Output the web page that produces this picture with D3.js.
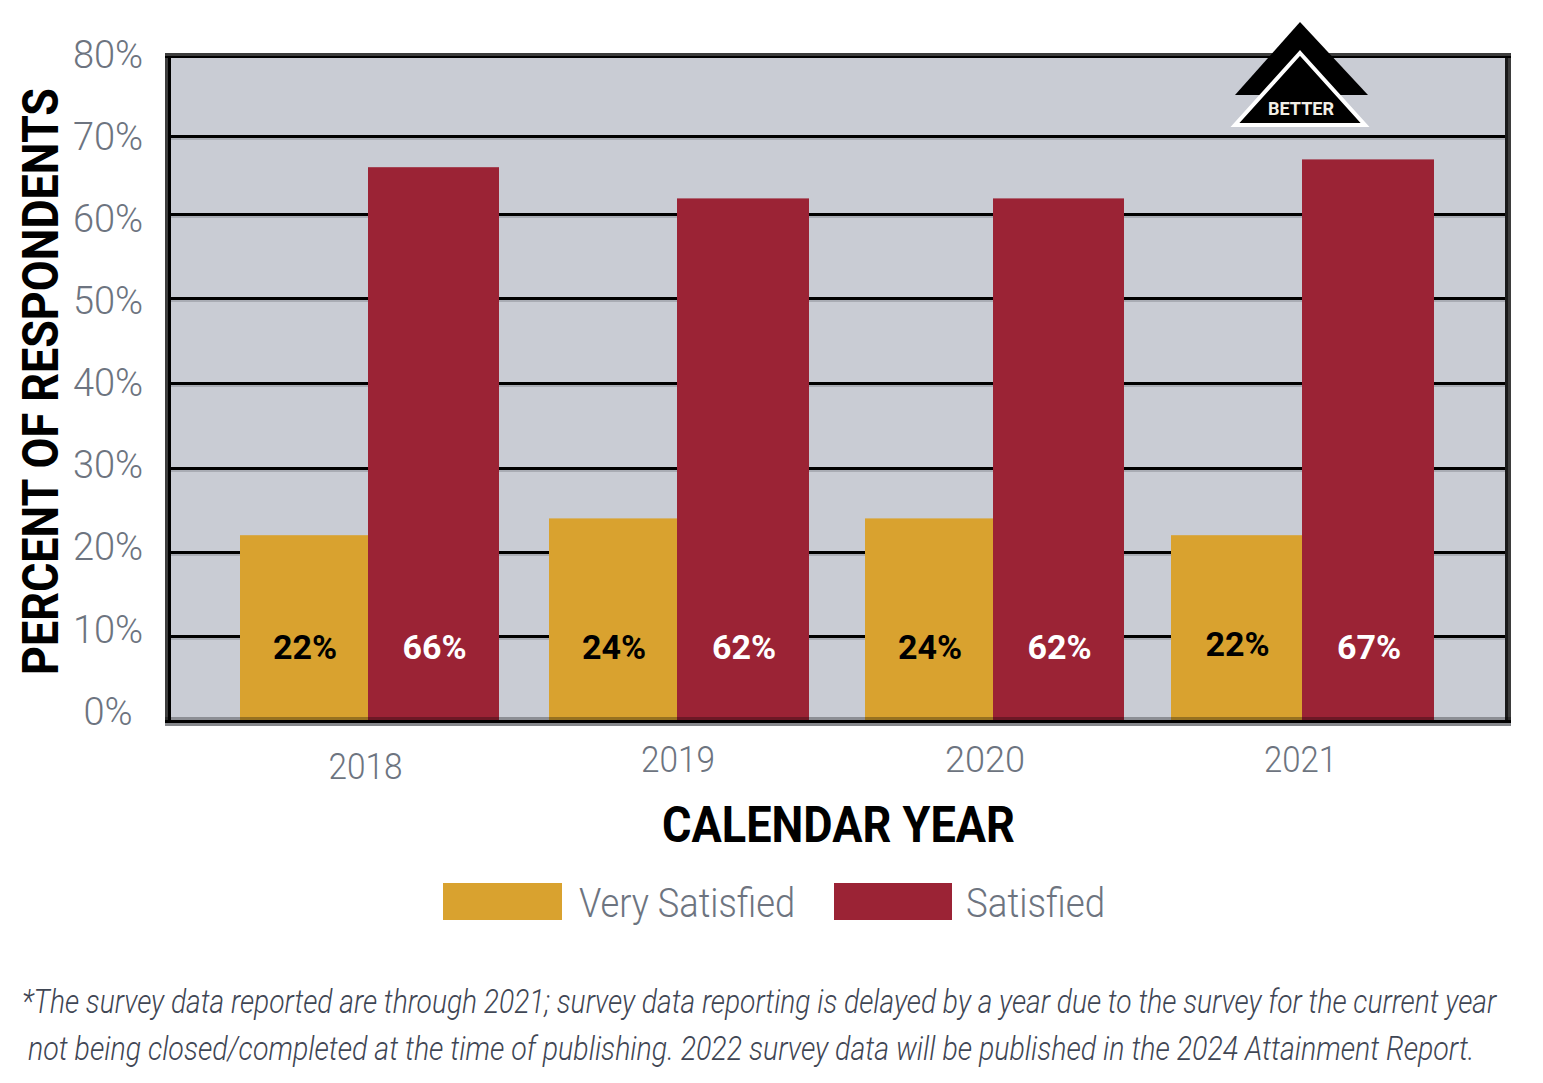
<!DOCTYPE html>
<html>
<head>
<meta charset="utf-8">
<title>Percent of respondents satisfied, by calendar year</title>
<script src="https://cdn.jsdelivr.net/npm/d3@7"></script>
<style>
  html, body { margin: 0; padding: 0; background: #fff; }
  svg { display: block; }
  text { font-family: Roboto, "Liberation Sans", sans-serif; }
</style>
</head>
<body>
<svg id="chart" width="1543" height="1083"></svg>
<script>
// Survey results
const years = ["2018", "2019", "2020", "2021"];
const verySatisfied = [22, 24, 24, 22];
const satisfied = [66, 62, 62, 67];
const seriesNames = ["Very Satisfied", "Satisfied"];
const gridTicks = [0, 10, 20, 30, 40, 50, 60, 70, 80];
const footnoteLines = [
  "*The survey data reported are through 2021; survey data reporting is delayed by a year due to the survey for the current year",
  "not being closed/completed at the time of publishing. 2022 survey data will be published in the 2024 Attainment Report."
];

const GOLD = "#d9a22f", RED = "#9b2335", PANEL = "#c9ccd4", INK = "#000", MUTED = "#6d7480";
const svg = d3.select("#chart");

// Plot frame
const plot = { left: 171, right: 1505, top: 58, bottom: 720 };

// The rules sit at slightly uneven intervals, so the scale is piecewise
const y = d3.scaleLinear().domain(gridTicks).range([720, 636, 552, 468, 383, 298, 214, 136, 55]);
const yLabels = d3.scaleLinear().domain([0, 80]).range([712, 55]);

// Each year's pair of bars: left edge, shared edge, right edge
const xLeft = d3.scaleOrdinal().domain(years).range([240, 549, 865, 1171]);
const xMid = d3.scaleOrdinal().domain(years).range([368, 677, 993, 1302]);
const xRight = d3.scaleOrdinal().domain(years).range([499, 809, 1124, 1434]);

const xYearLabel = d3.scaleOrdinal().domain(years).range([365.5, 678, 985, 1300.5]);
const yearLabelWidth = d3.scaleOrdinal().domain(years).range([74, 74, 80, 73]);
const yearLabelBaseline = d3.scaleOrdinal().domain(years).range([779, 772, 772, 772]);
const goldLabelBaseline = d3.scaleOrdinal().domain(years).range([659, 659, 659, 656]);
const colour = d3.scaleOrdinal().domain(seriesNames).range([GOLD, RED]);

svg.append("rect")
  .attr("x", plot.left).attr("y", plot.top)
  .attr("width", plot.right - plot.left).attr("height", plot.bottom - plot.top)
  .attr("fill", PANEL);

// Horizontal rules: a black line with a soft grey edge under it
const rules = gridTicks.filter(d => d > 0 && d < 80);
svg.append("g").selectAll("rect.edge").data(rules).join("rect")
  .attr("class", "edge")
  .attr("x", plot.left).attr("width", plot.right - plot.left)
  .attr("y", d => y(d) + 1).attr("height", 3).attr("fill", "#a9acb4");
const gridAxis = d3.axisRight(y).tickValues(rules).tickSize(plot.right - 165).tickFormat("");
svg.append("g")
  .attr("transform", "translate(165,0)")
  .call(gridAxis)
  .call(g => g.select(".domain").remove())
  .call(g => g.selectAll("line").attr("stroke", INK).attr("stroke-width", 3));

// Bars
const rows = years.map((year, i) => ({ year, values: [verySatisfied[i], satisfied[i]] }));
const groups = svg.append("g").selectAll("g").data(rows).join("g");
const cells = d => d.values.map((v, j) => ({
  year: d.year, v, j,
  x0: j === 0 ? xLeft(d.year) : xMid(d.year),
  x1: j === 0 ? xMid(d.year) : xRight(d.year)
}));
groups.selectAll("rect").data(cells).join("rect")
  .attr("x", d => d.x0)
  .attr("width", d => d.x1 - d.x0)
  .attr("y", d => y(d.v))
  .attr("height", d => y(0) - y(d.v))
  .attr("fill", d => colour(seriesNames[d.j]));
groups.selectAll("text").data(cells).join("text")
  .attr("x", d => (d.x0 + d.x1) / 2 + 1)
  .attr("y", d => d.j === 0 ? goldLabelBaseline(d.year) : 659)
  .attr("text-anchor", "middle")
  .attr("font-size", 34)
  .attr("font-weight", 700)
  .attr("fill", d => d.j === 0 ? INK : "#fff")
  .text(d => d.v + "%");

// Frame around the panel
const frame = svg.append("g");
[[165, 53, 3, 673, "#3d3d3d"], [168, 55, 3, 669, INK],
 [1505, 55, 3, 669, "#1a1a1a"], [1508, 53, 3, 673, "#3d3d3d"],
 [165, 53, 1346, 3, "#3d3d3d"], [165, 56, 1346, 2, INK],
 [165, 717, 1346, 3, "rgba(0,0,0,0.3)"], [165, 720, 1346, 3, INK], [165, 723, 1346, 3, "#85878b"]]
  .forEach(([fx, fy, fw, fh, fc]) => frame.append("rect")
    .attr("x", fx).attr("y", fy).attr("width", fw).attr("height", fh).attr("fill", fc));

// Value axis labels
svg.append("g")
  .attr("transform", "translate(108,0)")
  .call(d3.axisLeft(yLabels).tickValues(gridTicks).tickSize(0).tickPadding(0).tickFormat(d => d + "%"))
  .call(g => g.select(".domain").remove())
  .call(g => g.selectAll("text")
    .attr("text-anchor", "middle")
    .attr("x", 0)
    .attr("font-size", 38)
    .attr("font-weight", 300)
    .attr("fill", MUTED)
    .style("font-family", "Roboto"));

// Year labels
svg.append("g").selectAll("text").data(years).join("text")
  .attr("x", d => xYearLabel(d))
  .attr("y", d => yearLabelBaseline(d))
  .attr("text-anchor", "middle")
  .attr("font-size", 37)
  .attr("font-weight", 300)
  .attr("fill", MUTED)
  .attr("textLength", d => yearLabelWidth(d)).attr("lengthAdjust", "spacingAndGlyphs")
  .text(d => d);

// Axis titles
svg.append("text")
  .attr("transform", "translate(58,675) rotate(-90)")
  .attr("font-size", 50).attr("font-weight", 700).attr("fill", INK)
  .attr("textLength", 587).attr("lengthAdjust", "spacingAndGlyphs")
  .text("PERCENT OF RESPONDENTS");
svg.append("text")
  .attr("x", 662).attr("y", 842)
  .attr("font-size", 50).attr("font-weight", 700).attr("fill", INK)
  .attr("textLength", 353).attr("lengthAdjust", "spacingAndGlyphs")
  .text("CALENDAR YEAR");

// Legend
const legendItems = [
  { name: seriesNames[0], x: 443, w: 119, tx: 579, tl: 216 },
  { name: seriesNames[1], x: 834, w: 118, tx: 966, tl: 139 }
];
const legend = svg.append("g").selectAll("g").data(legendItems).join("g");
legend.append("rect")
  .attr("x", d => d.x).attr("y", 883).attr("width", d => d.w).attr("height", 37)
  .attr("fill", d => colour(d.name));
legend.append("text")
  .attr("x", d => d.tx).attr("y", 917)
  .attr("font-size", 40).attr("font-weight", 300).attr("fill", MUTED)
  .attr("textLength", d => d.tl).attr("lengthAdjust", "spacingAndGlyphs")
  .text(d => d.name);

// Footnote: each line is squeezed horizontally to its measured width
const footnotePlacement = [
  { x: 22, baseline: 1013, length: 1475 },
  { x: 28, baseline: 1060, length: 1447 }
];
svg.append("g").selectAll("text").data(footnoteLines).join("text")
  .attr("font-size", 33).attr("font-style", "italic").attr("font-weight", 300)
  .attr("fill", "#3f4654")
  .text(d => d)
  .attr("transform", function (d, i) {
    const p = footnotePlacement[i];
    return `translate(${p.x},${p.baseline}) scale(${p.length / this.getComputedTextLength()},1)`;
  });

// "Better" direction marker
const marker = svg.append("g");
marker.append("path").attr("d", "M1300,22 L1368,95 L1235,95 Z").attr("fill", INK);
marker.append("path").attr("d", "M1300,53 L1365,125 L1235,125 Z")
  .attr("fill", INK).attr("stroke", "#fff").attr("stroke-width", 4);
marker.append("text")
  .attr("x", 1301).attr("y", 115)
  .attr("text-anchor", "middle")
  .attr("font-size", 19).attr("font-weight", 700).attr("fill", "#f2efe6")
  .attr("textLength", 66).attr("lengthAdjust", "spacingAndGlyphs")
  .text("BETTER");
</script>
</body>
</html>
